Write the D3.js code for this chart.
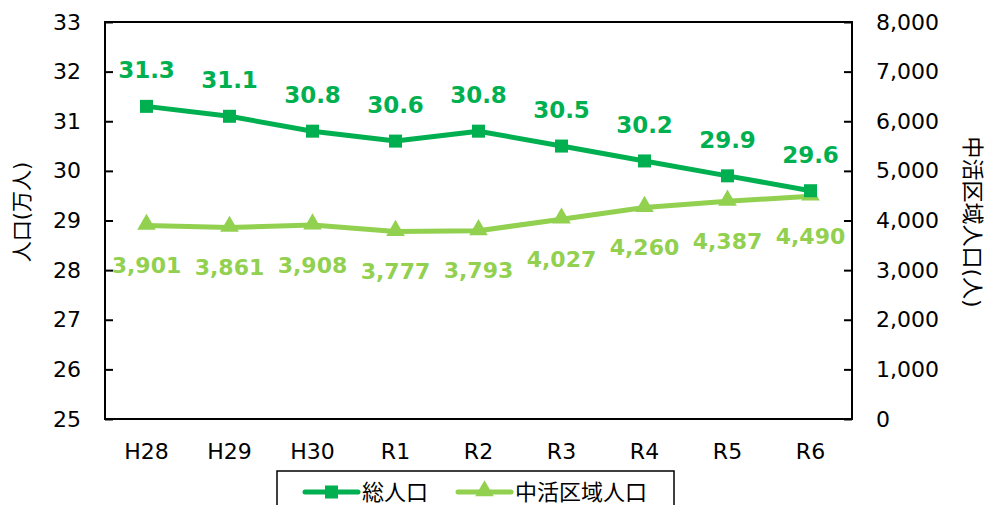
<!DOCTYPE html>
<html>
<head>
<meta charset="utf-8">
<script src="https://cdn.jsdelivr.net/npm/d3@7"></script>
<style>
  body { margin: 0; background: #fff; }
  svg text { font-family: "DejaVu Sans", "Noto Sans CJK JP", sans-serif; }
</style>
</head>
<body>
<div id="chart"></div>
<script>
// data
const years = ["H28", "H29", "H30", "R1", "R2", "R3", "R4", "R5", "R6"];
const totalPop = [31.3, 31.1, 30.8, 30.6, 30.8, 30.5, 30.2, 29.9, 29.6];   // 万人
const centralPop = [3901, 3861, 3908, 3777, 3793, 4027, 4260, 4387, 4490]; // 人
const leftTicks = [25, 26, 27, 28, 29, 30, 31, 32, 33];
const rightTicks = [0, 1000, 2000, 3000, 4000, 5000, 6000, 7000, 8000];
const seriesNames = ["総人口", "中活区域人口"];

const W = 989, H = 505;
const plot = {left: 105, right: 852, top: 22, bottom: 419};
const darkGreen = "#00B050", lightGreen = "#92D050";

const svg = d3.select("#chart").append("svg")
  .attr("width", W).attr("height", H);

const x = d3.scaleBand().domain(years).range([plot.left, plot.right]);
const cx = d => x(d) + x.bandwidth() / 2;
const yL = d3.scaleLinear().domain([25, 33]).range([plot.bottom, plot.top]);
const yR = d3.scaleLinear().domain([0, 8000]).range([plot.bottom, plot.top]);

// plot border
svg.append("rect")
  .attr("x", plot.left).attr("y", plot.top)
  .attr("width", plot.right - plot.left).attr("height", plot.bottom - plot.top)
  .attr("fill", "none").attr("stroke", "#000").attr("stroke-width", 2);

// left axis
const axL = svg.append("g")
  .attr("transform", `translate(${plot.left},0)`)
  .call(d3.axisRight(yL).tickValues(leftTicks).tickSize(8).tickFormat(d3.format("d")));
axL.select(".domain").remove();
axL.selectAll("line").attr("stroke", "#000").attr("stroke-width", 2);
axL.selectAll("text")
  .attr("x", -24).attr("text-anchor", "end")
  .attr("font-size", 22).attr("fill", "#000");

// right axis
const axR = svg.append("g")
  .attr("transform", `translate(${plot.right},0)`)
  .call(d3.axisLeft(yR).tickValues(rightTicks).tickSize(8).tickFormat(d3.format(",")));
axR.select(".domain").remove();
axR.selectAll("line").attr("stroke", "#000").attr("stroke-width", 2);
axR.selectAll("text")
  .attr("x", 24).attr("text-anchor", "start")
  .attr("font-size", 22).attr("fill", "#000");

// bottom axis labels
const axB = svg.append("g")
  .attr("transform", `translate(0,${plot.bottom})`)
  .call(d3.axisBottom(x).tickSize(0));
axB.select(".domain").remove();
axB.selectAll("text")
  .attr("y", 33).attr("dy", "0.32em")
  .attr("font-size", 22).attr("fill", "#000");

// axis titles
svg.append("text")
  .attr("transform", `translate(22,212) rotate(-90)`)
  .attr("text-anchor", "middle").attr("dy", "0.35em")
  .attr("font-size", 21)
  .text("人口(万人)");

svg.append("text")
  .attr("transform", `translate(973,222) rotate(90)`)
  .attr("text-anchor", "middle").attr("dy", "0.35em")
  .attr("font-size", 22)
  .text("中活区域人口(人)");

// central area line
svg.append("path")
  .datum(centralPop)
  .attr("fill", "none").attr("stroke", lightGreen).attr("stroke-width", 5)
  .attr("stroke-linejoin", "round")
  .attr("d", d3.line().x((d, i) => cx(years[i])).y(d => yR(d)));

const tri = d3.symbol().type(d3.symbolTriangle).size(150);
svg.append("g").selectAll("path")
  .data(centralPop).join("path")
  .attr("transform", (d, i) => `translate(${cx(years[i])},${yR(d) - 1})`)
  .attr("d", tri).attr("fill", lightGreen);

// total line
svg.append("path")
  .datum(totalPop)
  .attr("fill", "none").attr("stroke", darkGreen).attr("stroke-width", 5)
  .attr("stroke-linejoin", "round")
  .attr("d", d3.line().x((d, i) => cx(years[i])).y(d => yL(d)));

svg.append("g").selectAll("rect")
  .data(totalPop).join("rect")
  .attr("x", (d, i) => cx(years[i]) - 6.5)
  .attr("y", d => yL(d) - 6.5)
  .attr("width", 13).attr("height", 13)
  .attr("fill", darkGreen);

// data labels
svg.append("g").selectAll("text")
  .data(totalPop).join("text")
  .attr("x", (d, i) => cx(years[i]))
  .attr("y", d => yL(d) - 36)
  .attr("dy", "0.35em").attr("text-anchor", "middle")
  .attr("font-size", 23).attr("font-weight", "bold")
  .attr("fill", darkGreen)
  .text(d => d.toFixed(1));

svg.append("g").selectAll("text")
  .data(centralPop).join("text")
  .attr("x", (d, i) => cx(years[i]))
  .attr("y", d => yR(d) + 40)
  .attr("dy", "0.35em").attr("text-anchor", "middle")
  .attr("font-size", 22).attr("font-weight", "bold")
  .attr("fill", lightGreen)
  .text(d => d3.format(",")(d));

// legend
const lg = svg.append("g");
lg.append("rect")
  .attr("x", 277).attr("y", 471).attr("width", 397).attr("height", 40)
  .attr("fill", "#fff").attr("stroke", "#000").attr("stroke-width", 1.5);

const legendItems = [
  { name: seriesNames[0], color: darkGreen, x0: 305, shape: "square" },
  { name: seriesNames[1], color: lightGreen, x0: 458, shape: "tri" }
];
const ly = 492;
legendItems.forEach(it => {
  lg.append("line")
    .attr("x1", it.x0).attr("x2", it.x0 + 53)
    .attr("y1", ly).attr("y2", ly)
    .attr("stroke", it.color).attr("stroke-width", 5).attr("stroke-linecap", "round");
  if (it.shape === "square") {
    lg.append("rect")
      .attr("x", it.x0 + 26.5 - 6.5).attr("y", ly - 6.5)
      .attr("width", 13).attr("height", 13).attr("fill", it.color);
  } else {
    lg.append("path")
      .attr("transform", `translate(${it.x0 + 26.5},${ly - 1})`)
      .attr("d", tri).attr("fill", it.color);
  }
  lg.append("text")
    .attr("x", it.x0 + 57).attr("y", ly)
    .attr("dy", "0.35em").attr("font-size", 22)
    .text(it.name);
});
</script>
</body>
</html>
